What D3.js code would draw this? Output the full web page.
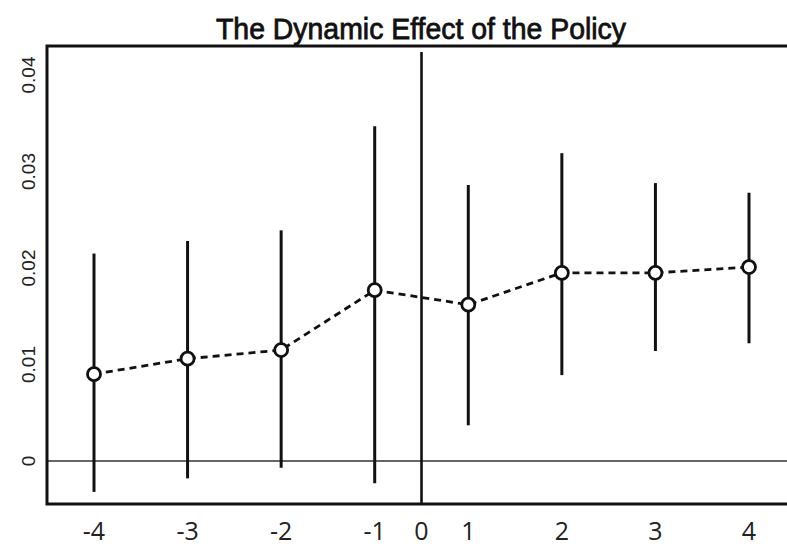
<!DOCTYPE html>
<html>
<head>
<meta charset="utf-8">
<script src="https://cdn.jsdelivr.net/npm/d3@7"></script>
<style>
  html, body { margin: 0; padding: 0; background: #fff; }
  svg { display: block; }
</style>
</head>
<body>
<svg id="chart" width="787" height="547"></svg>
<script>
// ---- data ----
const title = "The Dynamic Effect of the Policy";
const periods = ["-4", "-3", "-2", "-1", "1", "2", "3", "4"];
const estimates = [0.0090, 0.0106, 0.0115, 0.0177, 0.0162, 0.0195, 0.0195, 0.0201];
const ciLower = [-0.0032, -0.0018, -0.0007, -0.0023, 0.0037, 0.0089, 0.0114, 0.0122];
const ciUpper = [0.0215, 0.0228, 0.0239, 0.0347, 0.0286, 0.0319, 0.0288, 0.0278];
const yTicks = [0, 0.01, 0.02, 0.03, 0.04];
const yTickLabels = ["0", "0.01", "0.02", "0.03", "0.04"];
const eventLabel = "0";

// ---- layout ----
const svg = d3.select("#chart");
const box = { left: 47, top: 46, right: 792, bottom: 504 };

const x = d3.scalePoint().domain(periods).range([94, 749]);
const y = d3.scaleLinear().domain([0, 0.04]).range([461, 75]);

const rows = periods.map((p, i) => ({ p, est: estimates[i], lo: ciLower[i], hi: ciUpper[i] }));

// title
svg.append("text")
  .attr("x", 421).attr("y", 39)
  .attr("text-anchor", "middle")
  .attr("font-family", "Liberation Sans, Arial, sans-serif")
  .attr("font-size", 30)
  .attr("textLength", 410)
  .attr("lengthAdjust", "spacingAndGlyphs")
  .attr("fill", "#111")
  .attr("stroke", "#111").attr("stroke-width", 0.8)
  .text(title);

// zero reference line
svg.append("line")
  .attr("x1", box.left).attr("x2", box.right)
  .attr("y1", y(0)).attr("y2", y(0))
  .attr("stroke", "#333").attr("stroke-width", 1.6);

// event-time line at 0 (midway between -1 and 1)
const x0 = (x("-1") + x("1")) / 2;
svg.append("line")
  .attr("x1", x0).attr("x2", x0)
  .attr("y1", 52).attr("y2", box.bottom)
  .attr("stroke", "#111").attr("stroke-width", 2.6);

// confidence intervals
svg.append("g").selectAll("line").data(rows).join("line")
  .attr("x1", d => x(d.p)).attr("x2", d => x(d.p))
  .attr("y1", d => y(d.hi)).attr("y2", d => y(d.lo))
  .attr("stroke", "#111").attr("stroke-width", 3);

// dashed connecting line
svg.append("path")
  .datum(rows)
  .attr("fill", "none")
  .attr("stroke", "#111").attr("stroke-width", 2.8)
  .attr("stroke-dasharray", "7,5")
  .attr("d", d3.line().x(d => x(d.p)).y(d => y(d.est)));

// points
svg.append("g").selectAll("circle").data(rows).join("circle")
  .attr("cx", d => x(d.p)).attr("cy", d => y(d.est))
  .attr("r", 6.5)
  .attr("fill", "#fff").attr("stroke", "#111").attr("stroke-width", 2.8);

// plot frame (left, top, bottom)
svg.append("path")
  .attr("d", `M${box.right},${box.top}H${box.left}V${box.bottom}H${box.right}`)
  .attr("fill", "none").attr("stroke", "#111").attr("stroke-width", 3);

// y tick labels (rotated)
svg.append("g").selectAll("text").data(yTicks).join("text")
  .attr("transform", d => `translate(28,${y(d)}) rotate(-90)`)
  .attr("text-anchor", "middle")
  .attr("dy", "0.35em")
  .attr("font-family", "Liberation Sans, Arial, sans-serif")
  .attr("font-size", 19)
  .attr("fill", "#222")
  .text((d, i) => yTickLabels[i]);

// x tick labels
const xLabels = periods.map(p => ({ label: p, pos: x(p) }))
  .concat([{ label: eventLabel, pos: x0 }]);
svg.append("g").selectAll("text").data(xLabels).join("text")
  .attr("x", d => d.pos).attr("y", 540)
  .attr("text-anchor", "middle")
  .attr("font-family", "Open Sans, sans-serif")
  .attr("font-size", 25)
  .attr("fill", "#222")
  .text(d => d.label);
</script>
</body>
</html>
